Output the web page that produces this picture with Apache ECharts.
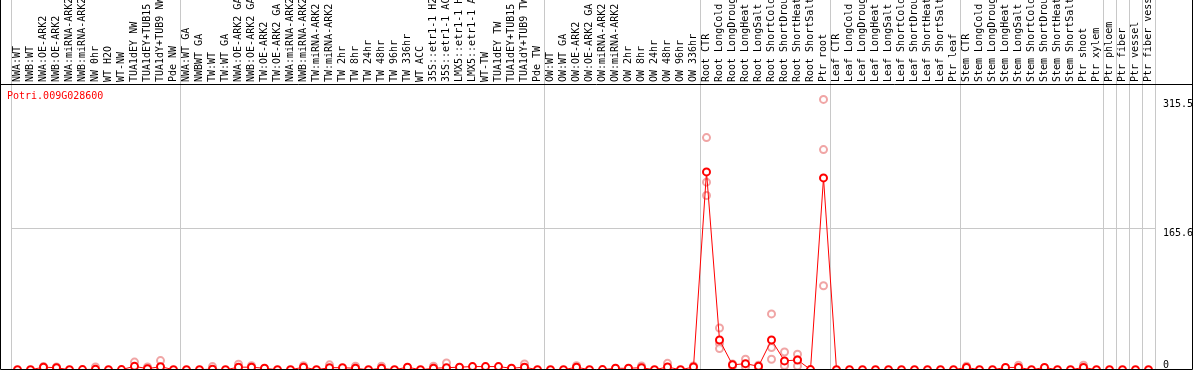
<!DOCTYPE html>
<html>
<head>
<meta charset="utf-8">
<script src="https://cdn.jsdelivr.net/npm/echarts@6.0.0/dist/echarts.min.js"></script>
<style>
  html, body { margin: 0; padding: 0; background: #fff; }
  #chart { width: 1194px; height: 370px; }
</style>
</head>
<body>
<div id="chart"></div>
<script>
// gene shown in the plot
var geneName = 'Potri.009G028600';

// sample names, one group per line (NW, TW, OW, root, leaf, stem, single Ptr tissues)
var categories = [].concat(
  ['NWA:WT', 'NWB:WT', 'NWA:OE-ARK2', 'NWB:OE-ARK2', 'NWA:miRNA-ARK2', 'NWB:miRNA-ARK2', 'NW 0hr', 'WT H2O', 'WT-NW', 'TUA1dEY NW', 'TUA1dEY+TUB15', 'TUA1dY+TUB9 NW', 'Pde NW'],
  ['NWA:WT GA', 'NWBWT GA', 'TW:WT', 'TW:WT GA', 'NWA:OE-ARK2 GA', 'NWB:OE-ARK2 GA', 'TW:OE-ARK2', 'TW:OE-ARK2 GA', 'NWA:miRNA-ARK2', 'NWB:miRNA-ARK2', 'TW:miRNA-ARK2', 'TW:miRNA-ARK2', 'TW 2hr', 'TW 8hr', 'TW 24hr', 'TW 48hr', 'TW 96hr', 'TW 336hr', 'WT ACC', '35S::etr1-1 H2O', '35S::etr1-1 ACC', 'LMX5::etr1-1 H2O', 'LMX5::etr1-1 ACC', 'WT-TW', 'TUA1dEY TW', 'TUA1dEY+TUB15', 'TUA1dY+TUB9 TW', 'Pde TW'],
  ['OW:WT', 'OW:WT GA', 'OW:OE-ARK2', 'OW:OE-ARK2 GA', 'OW:miRNA-ARK2', 'OW:miRNA-ARK2', 'OW 2hr', 'OW 8hr', 'OW 24hr', 'OW 48hr', 'OW 96hr', 'OW 336hr'],
  ['Root CTR', 'Root LongCold', 'Root LongDrought', 'Root LongHeat', 'Root LongSalt', 'Root ShortCold', 'Root ShortDrought', 'Root ShortHeat', 'Root ShortSalt', 'Ptr root'],
  ['Leaf CTR', 'Leaf LongCold', 'Leaf LongDrought', 'Leaf LongHeat', 'Leaf LongSalt', 'Leaf ShortCold', 'Leaf ShortDrought', 'Leaf ShortHeat', 'Leaf ShortSalt', 'Ptr leaf'],
  ['Stem CTR', 'Stem LongCold', 'Stem LongDrought', 'Stem LongHeat', 'Stem LongSalt', 'Stem ShortCold', 'Stem ShortDrought', 'Stem ShortHeat', 'Stem ShortSalt', 'Ptr shoot', 'Ptr xylem'],
  ['Ptr phloem'], ['Ptr fiber'], ['Ptr vessel'], ['Ptr fiber vessel']
);

// index of the first sample of each group (a grey separator is drawn before it)
var groupStarts = [0, 13, 41, 53, 63, 73, 84, 85, 86, 87];

// mean expression per sample
var meanValues = [].concat(
  [0.3, 0.3, 3.3, 2.7, 0.3, 0.5, 0.8, 0.3, 0.5, 4.3, 1.5, 3.9, 0.4],
  [0.3, 0.4, 1.0, 0.3, 3.3, 3.3, 2.0, 0.3, 0.3, 3.3, 0.3, 2.7, 2.7, 2.0, 0.3, 2.0, 0.3, 3.3, 0.3, 2.0, 2.7, 3.3, 4.0, 4.0, 4.0, 2.0, 3.3, 0.3],
  [0.3, 0.3, 3.3, 0.3, 0.5, 2.0, 2.0, 2.7, 0.3, 3.5, 0.3, 3.5],
  [231, 35, 6.0, 7.4, 4.3, 35, 10.6, 11.7, 0.5, 224],
  [0.3, 0.3, 0.3, 0.3, 0.3, 0.3, 0.3, 0.3, 0.3, 0.3],
  [3.0, 0.3, 0.3, 3.0, 3.0, 0.3, 3.0, 0.3, 0.3, 3.0, 0.3],
  [0.3], [0.3], [0.3], [0.3]
);

// replicate values (null = hidden behind the mean marker)
var replicateA = [].concat(
  [null, null, 4.0, 3.5, null, null, 3.5, null, null, 9.2, 3.5, 11.0, null],
  [null, null, 4.0, null, 6.7, 5.0, null, null, null, 5.0, null, 6.0, null, 4.5, null, 4.5, null, null, null, 4.5, 8.2, null, null, null, null, null, 7.0, null],
  [null, null, 5.0, null, null, null, null, 4.7, null, 7.8, null, 4.7],
  [271, 49, 7.0, 12.6, 5.5, 65.4, 21, 18.4, null, 315.5],
  [null, null, null, null, null, null, null, null, null, null],
  [4.5, null, null, null, 5.5, null, null, null, null, 5.5, null],
  [null], [null], [null], [null]
);
var replicateB = [].concat(
  [null, null, 2.6, 1.5, null, null, null, null, null, null, null, null, null],
  [null, null, null, null, null, null, null, null, null, null, null, null, null, null, null, null, null, null, null, null, null, null, null, null, null, null, null, null],
  [null, null, null, null, null, null, null, null, null, null, null, null],
  [219, 31, 6.0, 5.9, 4.0, 26.2, 6.0, 12.0, null, 257],
  [null, null, null, null, null, null, null, null, null, null],
  [null, null, null, null, null, null, null, null, null, null, null],
  [null], [null], [null], [null]
);
var replicateC = [].concat(
  [null, null, null, null, null, null, null, null, null, null, null, null, null],
  [null, null, null, null, null, null, null, null, null, null, null, null, null, null, null, null, null, null, null, null, null, null, null, null, null, null, null, null],
  [null, null, null, null, null, null, null, null, null, null, null, null],
  [203.5, 25, 4.5, 3.5, 3.5, 12.6, 5.0, 4.7, null, 98.3],
  [null, null, null, null, null, null, null, null, null, null],
  [null, null, null, null, null, null, null, null, null, null, null],
  [null], [null], [null], [null]
);

// y axis: labelled values and the one grid line
var yLabelValues = [0, 165.6, 315.5];
var yGridValues = [165.6];
var Y_MAX = 333.5;

var FONT = '"DejaVu Sans Mono", monospace';
var SEP_COLOR = '#c8c8c8';
var PALE_RED = '#ec8e8e';

function isGroupStart(index) {
  return groupStarts.indexOf(index) >= 0;
}

function toPoints(values) {
  var points = [];
  for (var i = 0; i < values.length; i++) {
    if (values[i] !== null) points.push([i, values[i]]);
  }
  return points;
}

function replicateSeries(values) {
  return {
    type: 'scatter',
    xAxisIndex: 1,
    yAxisIndex: 1,
    symbol: 'emptyCircle',
    symbolSize: 7,
    itemStyle: { color: PALE_RED, borderWidth: 1.5 },
    silent: true,
    z: 2,
    data: toPoints(values)
  };
}

var chart = echarts.init(document.getElementById('chart'));

var option = {
  animation: false,
  backgroundColor: '#fff',
  title: {
    text: geneName,
    left: 7,
    top: 91,
    padding: 0,
    textStyle: { color: '#ff0000', fontFamily: FONT, fontSize: 10, fontWeight: 'normal' }
  },
  grid: [
    // label band on top, only carries the separators
    { left: 11, right: 39, top: 0, height: 84, outerBoundsMode: 'none' },
    // plot area
    { left: 11, right: 39, top: 84, bottom: 0, outerBoundsMode: 'none' }
  ],
  xAxis: [
    {
      gridIndex: 0,
      type: 'category',
      data: categories,
      axisLine: { show: false },
      axisTick: { show: false },
      axisLabel: { show: false },
      splitLine: { show: true, interval: isGroupStart, lineStyle: { color: SEP_COLOR, width: 1 } }
    },
    {
      gridIndex: 1,
      type: 'category',
      position: 'top',
      data: categories,
      axisLine: { lineStyle: { color: '#000', width: 1 } },
      axisTick: { show: false },
      axisLabel: {
        interval: 0,
        rotate: 90,
        margin: 2,
        color: '#000',
        fontFamily: FONT,
        fontSize: 10
      },
      splitLine: { show: true, interval: isGroupStart, lineStyle: { color: SEP_COLOR, width: 1 } }
    }
  ],
  yAxis: [
    { gridIndex: 0, type: 'value', show: false },
    {
      gridIndex: 1,
      type: 'value',
      position: 'right',
      min: 0,
      max: Y_MAX,
      axisLine: { show: false },
      axisTick: { show: false, customValues: yGridValues },
      axisLabel: {
        customValues: yLabelValues,
        margin: 8,
        color: '#000',
        fontFamily: FONT,
        fontSize: 10,
        verticalAlign: 'top',
        verticalAlignMinLabel: 'bottom'
      },
      splitLine: { show: true, lineStyle: { color: SEP_COLOR, width: 1 } }
    }
  ],
  graphic: [
    {
      type: 'rect',
      silent: true,
      z: 10,
      shape: { x: 0.5, y: -1, width: 1192, height: 370.5 },
      style: { fill: 'none', stroke: '#000', lineWidth: 1 }
    },
    {
      type: 'line',
      silent: true,
      z: 10,
      shape: { x1: 0, y1: 84.5, x2: 1193, y2: 84.5 },
      style: { stroke: '#000', lineWidth: 1 }
    }
  ],
  series: [
    replicateSeries(replicateA),
    replicateSeries(replicateB),
    replicateSeries(replicateC),
    {
      type: 'line',
      xAxisIndex: 1,
      yAxisIndex: 1,
      data: meanValues,
      symbol: 'emptyCircle',
      symbolSize: 7,
      showAllSymbol: true,
      lineStyle: { color: '#ff0000', width: 1 },
      itemStyle: { color: '#ff0000', borderWidth: 1.5 },
      silent: true,
      z: 3
    }
  ]
};

chart.setOption(option);
</script>
</body>
</html>
